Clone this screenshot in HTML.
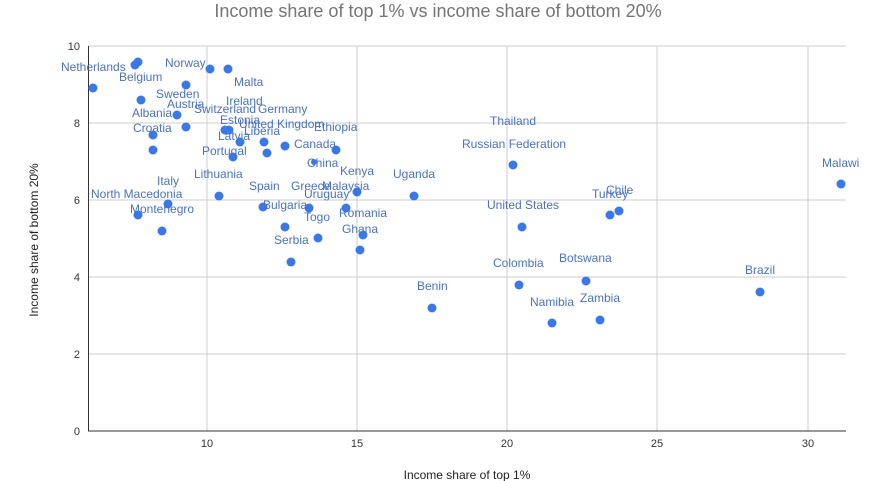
<!DOCTYPE html>
<html><head><meta charset="utf-8"><style>
body{margin:0;background:#fff;}
svg{display:block;font-family:"Liberation Sans",Arial,sans-serif;}
.l{fill:#4a72c4;font-size:12px;}
.t{fill:#333;font-size:11px;}
circle{fill:#3b78e7;}
</style></head><body>
<svg width="875" height="481" viewBox="0 0 875 481">
<rect width="875" height="481" fill="#fff"/>
<text x="438" y="17" text-anchor="middle" font-size="18" fill="#757575">Income share of top 1% vs income share of bottom 20%</text>
<g stroke="#cccccc" stroke-width="1">
<line x1="88" y1="46" x2="846" y2="46"/>
<line x1="88" y1="123" x2="846" y2="123"/>
<line x1="88" y1="200" x2="846" y2="200"/>
<line x1="88" y1="277" x2="846" y2="277"/>
<line x1="88" y1="354" x2="846" y2="354"/>
<line x1="207" y1="46" x2="207" y2="431"/>
<line x1="357" y1="46" x2="357" y2="431"/>
<line x1="507" y1="46" x2="507" y2="431"/>
<line x1="657" y1="46" x2="657" y2="431"/>
<line x1="808" y1="46" x2="808" y2="431"/>
</g>
<line x1="88" y1="431" x2="846" y2="431" stroke="#333"/>
<line x1="88.5" y1="46" x2="88.5" y2="431" stroke="#333"/>
<g class="t" text-anchor="end">
<text x="80" y="50">10</text><text x="80" y="127">8</text><text x="80" y="204">6</text><text x="80" y="281">4</text><text x="80" y="358">2</text><text x="80" y="435">0</text>
</g>
<g class="t" text-anchor="middle">
<text x="207" y="447">10</text><text x="357" y="447">15</text><text x="507" y="447">20</text><text x="657" y="447">25</text><text x="808" y="447">30</text>
</g>
<text x="467" y="479" text-anchor="middle" font-size="12" fill="#222">Income share of top 1%</text>
<text transform="translate(38,240) rotate(-90)" text-anchor="middle" font-size="12" fill="#222">Income share of bottom 20%</text>
<g>
<circle cx="93" cy="88" r="4.5"/><circle cx="135" cy="65" r="4.5"/><circle cx="138" cy="62" r="4.5"/>
<circle cx="141" cy="100" r="4.5"/><circle cx="153" cy="135" r="4.5"/><circle cx="153" cy="150" r="4.5"/>
<circle cx="138" cy="215" r="4.5"/><circle cx="162" cy="231" r="4.5"/><circle cx="168" cy="204" r="4.5"/>
<circle cx="186" cy="85" r="4.5"/><circle cx="186" cy="127" r="4.5"/><circle cx="177" cy="115" r="4.5"/>
<circle cx="210" cy="69" r="4.5"/><circle cx="228" cy="69" r="4.5"/><circle cx="219" cy="196" r="4.5"/>
<circle cx="225" cy="130" r="4.5"/><circle cx="229" cy="130" r="4.5"/><circle cx="240" cy="142" r="4.5"/>
<circle cx="233" cy="157" r="4.5"/><circle cx="264" cy="142" r="4.5"/><circle cx="267" cy="153" r="4.5"/>
<circle cx="285" cy="146" r="4.5"/><circle cx="285" cy="227" r="4.5"/><circle cx="291" cy="262" r="4.5"/>
<circle cx="309" cy="208" r="4.5"/><circle cx="318" cy="238" r="4.5"/><circle cx="336" cy="150" r="4.5"/>
<circle cx="357" cy="192" r="4.5"/><circle cx="346" cy="208" r="4.5"/><circle cx="363" cy="235" r="4.5"/>
<circle cx="360" cy="250" r="4.5"/><circle cx="414" cy="196" r="4.5"/><circle cx="432" cy="308" r="4.5"/>
<circle cx="513" cy="165" r="4.5"/><circle cx="522" cy="227" r="4.5"/><circle cx="519" cy="285" r="4.5"/>
<circle cx="552" cy="323" r="4.5"/><circle cx="586" cy="281" r="4.5"/><circle cx="600" cy="320" r="4.5"/>
<circle cx="610" cy="215" r="4.5"/><circle cx="619" cy="211" r="4.5"/><circle cx="760" cy="292" r="4.5"/>
<circle cx="841" cy="184" r="4.5"/><circle cx="263" cy="207" r="4.5"/><circle cx="314" cy="162" r="3"/>
</g>
<g class="l">
<text x="61" y="71">Netherlands</text><text x="165" y="67">Norway</text><text x="119" y="81">Belgium</text>
<text x="234" y="86">Malta</text><text x="156" y="98">Sweden</text><text x="226" y="105">Ireland</text>
<text x="167" y="108">Austria</text><text x="194" y="113">Switzerland</text><text x="258" y="113">Germany</text>
<text x="132" y="117">Albania</text><text x="220" y="124">Estonia</text><text x="239" y="128">United Kingdom</text>
<text x="314" y="131">Ethiopia</text><text x="133" y="132">Croatia</text><text x="218" y="140">Latvia</text>
<text x="244" y="135">Liberia</text><text x="294" y="148">Canada</text><text x="202" y="155">Portugal</text>
<text x="307" y="167">China</text><text x="340" y="175">Kenya</text><text x="194" y="178">Lithuania</text>
<text x="157" y="185">Italy</text><text x="249" y="190">Spain</text><text x="291" y="190">Greece</text>
<text x="322" y="190">Malaysia</text><text x="304" y="198">Uruguay</text><text x="91" y="198">North Macedonia</text>
<text x="130" y="213">Montenegro</text><text x="263" y="209">Bulgaria</text><text x="304" y="221">Togo</text>
<text x="339" y="217">Romania</text><text x="342" y="233">Ghana</text><text x="274" y="244">Serbia</text>
<text x="393" y="178">Uganda</text><text x="490" y="125">Thailand</text><text x="462" y="148">Russian Federation</text>
<text x="822" y="167">Malawi</text><text x="606" y="194">Chile</text><text x="592" y="198">Turkey</text>
<text x="487" y="209">United States</text><text x="559" y="262">Botswana</text><text x="745" y="274">Brazil</text>
<text x="493" y="267">Colombia</text><text x="417" y="290">Benin</text><text x="530" y="306">Namibia</text>
<text x="580" y="302">Zambia</text>
</g>
</svg>
</body></html>
